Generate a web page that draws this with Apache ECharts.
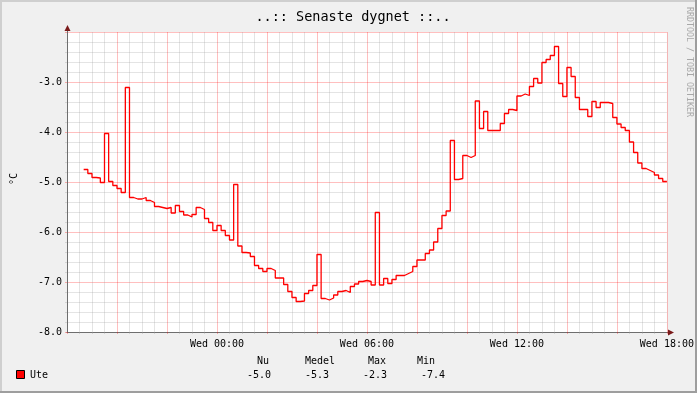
<!DOCTYPE html>
<html>
<head>
<meta charset="utf-8">
<script src="https://cdn.jsdelivr.net/npm/echarts@6/dist/echarts.min.js"></script>
<style>
html,body{margin:0;padding:0;background:#f0f0f0;}
#chart{width:697px;height:393px;}
</style>
</head>
<body>
<div id="chart"></div>
<script>
// ---- data (10-minute samples, hours relative to Wed 00:00) ----
const startHour = -5 - 1/3;          // first sample starts Tue 18:40
const stepHours = 1/6;               // 10 minutes
const endHour = 18;
const uteValues = [
  -4.75,-4.83,-4.91,-4.92,-5.01,-4.03,-4.99,-5.07,-5.13,-5.21,
  -3.11,-5.31,-5.34,-5.34,-5.31,-5.37,-5.41,-5.49,-5.51,-5.53,
  -5.51,-5.62,-5.47,-5.59,-5.66,-5.70,-5.65,-5.51,-5.55,-5.73,
  -5.81,-5.97,-5.87,-5.97,-6.07,-6.16,-5.05,-6.28,-6.41,-6.42,
  -6.49,-6.67,-6.73,-6.79,-6.73,-6.77,-6.92,-6.92,-7.05,-7.19,
  -7.31,-7.39,-7.38,-7.23,-7.17,-7.07,-6.45,-7.33,-7.36,-7.32,
  -7.26,-7.19,-7.17,-7.21,-7.09,-7.04,-6.99,-6.97,-6.99,-7.06,
  -5.61,-7.06,-6.93,-7.03,-6.95,-6.87,-6.87,-6.83,-6.79,-6.69,
  -6.56,-6.56,-6.43,-6.36,-6.20,-5.93,-5.67,-5.58,-4.17,-4.95,
  -4.93,-4.47,-4.51,-4.47,-3.38,-3.93,-3.59,-3.97,-3.97,-3.97,
  -3.83,-3.63,-3.55,-3.57,-3.28,-3.24,-3.27,-3.09,-2.93,-3.02,
  -2.61,-2.55,-2.47,-2.29,-3.03,-3.29,-2.71,-2.89,-3.31,-3.55,
  -3.55,-3.69,-3.39,-3.51,-3.41,-3.41,-3.43,-3.71,-3.84,-3.91,
  -3.97,-4.20,-4.41,-4.62,-4.73,-4.77,-4.81,-4.86,-4.93,-4.99
];
const xTickHours = [0, 6, 12, 18];
const xTickLabels = ['Wed 00:00', 'Wed 06:00', 'Wed 12:00', 'Wed 18:00'];
const legendHeaders = ['Nu', 'Medel', 'Max', 'Min'];
const legendValues = ['-5.0', '-5.3', '-2.3', '-7.4'];
const seriesName = 'Ute';
const titleText = '..:: Senaste dygnet ::..';
const unitText = '°C';

// ---- build ----
const seriesData = uteValues.map((v, i) => [startHour + i * stepHours, v]);
seriesData.push([endHour, uteValues[uteValues.length - 1]]);

const FONT = 'DejaVu Sans Mono';
const chart = echarts.init(document.getElementById('chart'), null, {renderer: 'canvas'});

const hdrX = [257, 305, 368, 417];
const valX = [247, 305, 363, 421];
const graphics = [
  // frame
  {type:'rect', shape:{x:0,y:0,width:697,height:2}, style:{fill:'#cfcfcf'}, silent:true},
  {type:'rect', shape:{x:0,y:0,width:2,height:393}, style:{fill:'#cfcfcf'}, silent:true},
  {type:'rect', shape:{x:695,y:0,width:2,height:393}, style:{fill:'#9e9e9e'}, silent:true},
  {type:'rect', shape:{x:0,y:391,width:697,height:2}, style:{fill:'#9e9e9e'}, silent:true},
  // axis extensions + arrows
  {type:'line', shape:{x1:67.5,y1:332,x2:67.5,y2:29}, style:{stroke:'#6e6e6e',lineWidth:1}, silent:true},
  {type:'line', shape:{x1:667,y1:332.5,x2:670,y2:332.5}, style:{stroke:'#6e6e6e',lineWidth:1}, silent:true},
  {type:'polygon', shape:{points:[[67.5,25],[64.5,31],[70.5,31]]}, style:{fill:'#7a1a1a'}, silent:true},
  {type:'polygon', shape:{points:[[674,332.5],[668,329.5],[668,335.5]]}, style:{fill:'#7a1a1a'}, silent:true},
  // title
  {type:'text', x:353, y:17, style:{text:titleText, font:'13.5px "DejaVu Sans Mono"', fill:'#000', align:'center', verticalAlign:'middle'}, silent:true},
  // watermark
  {type:'text', x:689, y:7, rotation:-Math.PI/2, style:{text:'RRDTOOL / TOBI OETIKER', font:'8.3px "DejaVu Sans Mono"', fill:'#a8a8a8', align:'left', verticalAlign:'middle'}, silent:true},
  // unit
  {type:'text', x:14, y:179, rotation:Math.PI/2, style:{text:unitText, font:'10px "DejaVu Sans Mono"', fill:'#000', align:'center', verticalAlign:'middle'}, silent:true},
  // legend
  {type:'rect', shape:{x:16.5,y:370.5,width:8,height:8}, style:{fill:'#ff0000', stroke:'#000', lineWidth:1}, silent:true},
  {type:'text', x:30, y:375, style:{text:seriesName, font:'10px "DejaVu Sans Mono"', fill:'#000', verticalAlign:'middle'}, silent:true}
];
legendHeaders.forEach((h, i) => graphics.push({type:'text', x:hdrX[i], y:361.5, style:{text:h, font:'10px "DejaVu Sans Mono"', fill:'#000', verticalAlign:'middle'}, silent:true}));
legendValues.forEach((v, i) => graphics.push({type:'text', x:valX[i], y:375, style:{text:v, font:'10px "DejaVu Sans Mono"', fill:'#000', verticalAlign:'middle'}, silent:true}));

chart.setOption({
  animation: false,
  backgroundColor: '#f0f0f0',
  grid: {left:67, right:30, top:32, bottom:61, show:true, backgroundColor:'#ffffff', borderWidth:0, containLabel:false},
  xAxis: {
    type:'value', min:-6, max:18, interval:2,
    axisLine:{show:true, onZero:false, lineStyle:{color:'#6e6e6e', width:1}},
    axisTick:{show:true, length:2, inside:false, lineStyle:{color:'rgba(255,0,0,0.3)'}},
    minorTick:{show:true, splitNumber:4, length:2, lineStyle:{color:'rgba(160,160,160,0.35)'}},
    splitLine:{show:true, lineStyle:{color:'rgba(255,0,0,0.25)', width:1}},
    minorSplitLine:{show:true, lineStyle:{color:'rgba(150,150,150,0.26)', width:1}},
    axisLabel:{
      margin:7, color:'#000', fontFamily:FONT, fontSize:10, showMinLabel:true, showMaxLabel:true,
      formatter: v => { const k = xTickHours.indexOf(Math.round(v*1000)/1000); return k >= 0 ? xTickLabels[k] : ''; }
    }
  },
  yAxis: {
    type:'value', min:-8, max:-2, interval:1,
    axisLine:{show:true, onZero:false, lineStyle:{color:'#6e6e6e', width:1}},
    axisTick:{show:true, length:2, lineStyle:{color:'rgba(255,0,0,0.3)'}},
    minorTick:{show:true, splitNumber:5, length:2, lineStyle:{color:'rgba(160,160,160,0.35)'}},
    splitLine:{show:true, lineStyle:{color:'rgba(255,0,0,0.25)', width:1}},
    minorSplitLine:{show:true, lineStyle:{color:'rgba(150,150,150,0.26)', width:1}},
    axisLabel:{
      margin:5, color:'#000', fontFamily:FONT, fontSize:10,
      formatter: v => (v > -2.5 ? '' : v.toFixed(1))
    }
  },
  series: [{
    name: seriesName, type:'line', step:'end', data: seriesData,
    symbol:'none', lineStyle:{color:'#ff0000', width:1.3}, z:5
  }],
  graphic: graphics
});
</script>
</body>
</html>
